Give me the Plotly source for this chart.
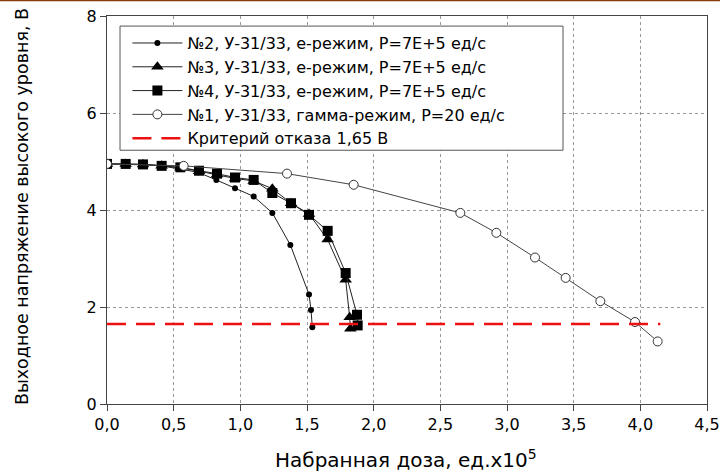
import plotly.graph_objects as go

# Data (dose in units x1e5, voltage in V)
x2 = [0.0, 0.14, 0.27, 0.41, 0.54, 0.68, 0.82, 0.96, 1.10, 1.24, 1.375, 1.515, 1.53, 1.54]
y2 = [4.95, 4.95, 4.94, 4.91, 4.85, 4.78, 4.62, 4.45, 4.28, 3.94, 3.28, 2.26, 1.94, 1.58]

x3 = [0.0, 0.14, 0.27, 0.41, 0.55, 0.69, 0.825, 0.96, 1.10, 1.24, 1.38, 1.515, 1.655, 1.79, 1.82, 1.825]
y3 = [4.95, 4.95, 4.94, 4.91, 4.87, 4.80, 4.73, 4.65, 4.60, 4.44, 4.14, 3.92, 3.39, 2.56, 1.79, 1.55]

x4 = [0.0, 0.14, 0.27, 0.41, 0.55, 0.69, 0.825, 0.96, 1.10, 1.24, 1.38, 1.515, 1.655, 1.79, 1.875, 1.88]
y4 = [4.95, 4.95, 4.94, 4.91, 4.88, 4.81, 4.75, 4.67, 4.62, 4.35, 4.14, 3.90, 3.57, 2.70, 1.84, 1.62]

x1 = [0.0, 0.575, 1.35, 1.85, 2.65, 2.92, 3.21, 3.44, 3.70, 3.96, 4.13]
y1 = [4.95, 4.91, 4.75, 4.52, 3.94, 3.53, 3.02, 2.60, 2.12, 1.69, 1.29]

crit_x = [0.0, 4.15]
crit_y = [1.65, 1.65]

names = [
    "№2, У-31/33, е-режим, Р=7Е+5 ед/с",
    "№3, У-31/33, е-режим, Р=7Е+5 ед/с",
    "№4, У-31/33, е-режим, Р=7Е+5 ед/с",
    "№1, У-31/33, гамма-режим, Р=20 ед/с",
    "Критерий отказа 1,65 В",
]

xtick_vals = [0.0, 0.5, 1.0, 1.5, 2.0, 2.5, 3.0, 3.5, 4.0, 4.5]
xtick_text = ["0,0", "0,5", "1,0", "1,5", "2,0", "2,5", "3,0", "3,5", "4,0", "4,5"]
ytick_vals = [0, 2, 4, 6, 8]

x_title = "Набранная доза, ед.x10<sup>5</sup>"
y_title = "Выходное напряжение высокого уровня, В"

FONT = "DejaVu Sans, Arial, sans-serif"
LC = "#222222"

fig = go.Figure()
fig.add_trace(go.Scatter(x=x2, y=y2, name=names[0], mode="lines+markers",
                         line=dict(color=LC, width=1),
                         marker=dict(symbol="circle", size=6, color="black")))
fig.add_trace(go.Scatter(x=x3, y=y3, name=names[1], mode="lines+markers",
                         line=dict(color=LC, width=1),
                         marker=dict(symbol="triangle-up", size=11, color="black")))
fig.add_trace(go.Scatter(x=x4, y=y4, name=names[2], mode="lines+markers",
                         line=dict(color=LC, width=1),
                         marker=dict(symbol="square", size=10, color="black")))
fig.add_trace(go.Scatter(x=x1, y=y1, name=names[3], mode="lines+markers",
                         line=dict(color="#444444", width=1),
                         marker=dict(symbol="circle", size=9, color="white",
                                     line=dict(color="#333333", width=1))))
fig.add_trace(go.Scatter(x=crit_x, y=crit_y, name=names[4], mode="lines",
                         line=dict(color="#ee1111", width=2.5, dash="19px,10px")))

fig.update_layout(
    width=720, height=472,
    margin=dict(l=107, r=13, t=16, b=68),
    paper_bgcolor="white", plot_bgcolor="white",
    font=dict(family=FONT, size=16, color="black"),
    showlegend=True,
    legend=dict(x=0.034, y=0.974, xanchor="left", yanchor="top",
                bgcolor="rgba(0,0,0,0)", borderwidth=0,
                font=dict(family=FONT, size=16), tracegroupgap=0,
                itemwidth=50),
    xaxis=dict(range=[0, 4.5], tickvals=xtick_vals, ticktext=xtick_text,
               showgrid=True, gridcolor="#999999", griddash="dot", gridwidth=1,
               showline=True, linecolor="#444444", linewidth=1, mirror=True,
               ticks="outside", ticklen=6, tickcolor="#444444",
               zeroline=False, tickfont=dict(size=16), automargin=False),
    yaxis=dict(range=[0, 8], tickvals=ytick_vals,
               showgrid=True, gridcolor="#999999", griddash="dot", gridwidth=1,
               showline=True, linecolor="#444444", linewidth=1, mirror=True,
               ticks="outside", ticklen=6, tickcolor="#444444",
               zeroline=False, tickfont=dict(size=16), automargin=False),
    annotations=[
        dict(text=x_title, xref="paper", yref="paper", x=0.499, y=-0.141,
             xanchor="center", yanchor="middle", showarrow=False,
             font=dict(family=FONT, size=20)),
        dict(text=y_title, xref="paper", yref="paper", x=-0.1417, y=0.51,
             xanchor="center", yanchor="middle", showarrow=False, textangle=-90,
             font=dict(family=FONT, size=17.5)),
    ],
    shapes=[
        # legend frame
        dict(type="rect", xref="paper", yref="paper", x0=0.0217, x1=0.76,
             y0=0.654, y1=0.974, layer="above", fillcolor="white",
             line=dict(color="#555555", width=1)),
        # thin brown strip at the very top of the picture
        dict(type="line", xref="paper", yref="paper", x0=-0.2, x1=1.05,
             y0=1.0405, y1=1.0405, line=dict(color="#8b3a0f", width=2)),
    ],
)

fig.write_html("out.html", config={"displayModeBar": False},
               post_script="document.body.style.margin='0';document.body.style.overflow='hidden';")
